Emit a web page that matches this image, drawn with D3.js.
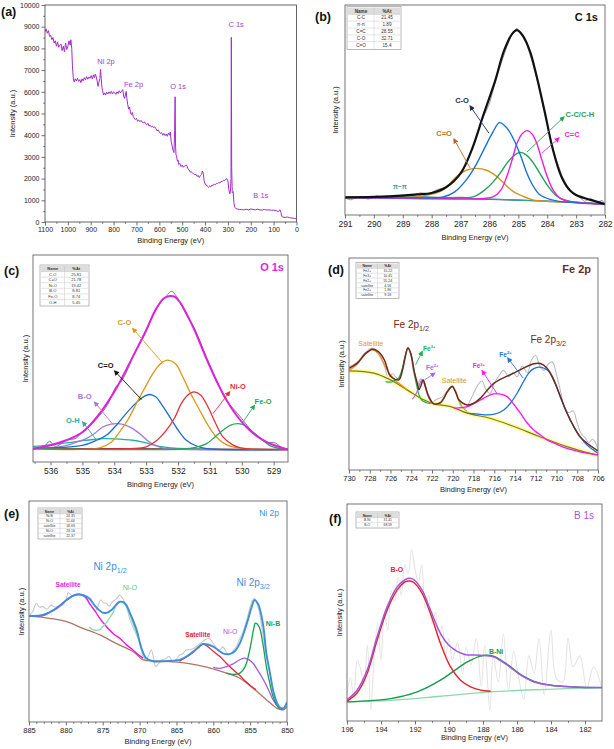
<!DOCTYPE html>
<html>
<head>
<meta charset="utf-8">
<script src="https://cdn.jsdelivr.net/npm/d3@7"></script>
<style>
body { margin: 0; background: #fff; }
svg { display: block; font-family: "Liberation Sans", Arial, sans-serif; }
</style>
</head>
<body>
<div id="chart"></div>
<script>
// ---------- (a) survey ----------
const surveyTicksX = [1100, 1000, 900, 800, 700, 600, 500, 400, 300, 200, 100, 0];
const surveyTicksY = [0, 1000, 2000, 3000, 4000, 5000, 6000, 7000, 8000, 9000, 10000];
const surveyPoints = [
  [1100,8770],[1095,8900],[1090,8700],[1085,8820],[1080,8550],[1075,8600],[1070,8400],[1065,8500],
  [1060,8250],[1055,8350],[1050,8100],[1045,8300],[1040,8050],[1035,8150],[1030,8200],[1025,7900],
  [1020,8100],[1015,7850],[1010,8250],[1005,7950],[1000,8100],[995,8350],[990,8150],[987,8400],
  [983,8000],[980,7200],[976,6600],[972,6450],[968,6600],[963,6500],[958,6620],[953,6480],[948,6560],
  [943,6420],[938,6600],[933,6500],[928,6650],[923,6550],[918,6700],[913,6580],[908,6680],[903,6620],
  [898,6750],[893,6600],[888,6780],[884,6650],[880,6820],[876,6700],[872,6500],[868,6250],[864,6450],
  [860,6600],[857,7030],[854,6600],[851,6200],[848,6050],[844,5850],[840,5950],[835,5850],[830,5980],
  [825,5900],[820,6000],[815,5920],[810,6020],[805,5900],[800,6000],[795,5950],[790,5880],[785,6000],
  [780,5920],[775,6050],[770,5950],[765,6020],[760,6100],[756,5800],[752,5700],[748,5850],[745,6020],
  [742,5700],[738,5400],[734,5200],[730,5300],[726,5000],[722,4950],[718,5050],[714,4850],[710,4800],
  [705,4720],[700,4780],[695,4650],[690,4700],[685,4620],[680,4680],[675,4600],[670,4560],[665,4620],
  [660,4520],[655,4480],[650,4550],[645,4420],[640,4460],[635,4380],[630,4420],[625,4350],[620,4380],
  [615,4300],[610,4200],[605,4250],[600,4150],[595,4080],[590,4120],[585,4000],[580,4080],[575,3980],
  [570,4050],[565,3950],[560,4100],[555,4000],[552,4150],[548,3700],[544,3500],[540,3300],[536,3200],
  [533,4200],[531,5770],[529,3500],[527,3100],[524,3000],[521,2800],[518,2850],[515,2650],[510,2700],
  [505,2550],[500,2620],[495,2520],[490,2580],[485,2600],[480,2620],[475,2450],[470,2400],[465,2300],
  [460,2320],[455,2250],[450,2220],[445,2180],[440,2200],[435,2100],[430,2150],[425,2050],[420,2150],
  [415,2200],[412,2350],[408,2250],[404,1900],[400,1750],[395,1720],[390,1650],[385,1600],[380,1650],
  [375,1620],[370,1700],[365,1680],[360,1750],[355,1720],[350,1780],[345,1760],[340,1820],[335,1800],
  [330,1870],[325,1860],[320,1920],[315,1900],[310,1960],[305,2000],[300,1900],[296,1500],[292,1300],
  [289,1400],[286.5,2000],[285,8510],[283.5,2500],[281,1350],[277,1400],[274,900],[270,680],[265,620],
  [260,600],[250,580],[240,570],[230,560],[220,590],[210,560],[200,600],[190,580],[180,560],[170,590],
  [160,560],[150,550],[140,580],[130,550],[120,560],[110,540],[100,550],[90,520],[80,480],[72,560],
  [68,430],[64,250],[60,230],[50,210],[40,230],[30,200],[20,180],[10,170],[0,150]
];
const surveyLabels = [["Ni 2p",833,7415],["Fe 2p",713,6340],["O 1s",518,6260],["C 1s",264,9120],["B 1s",156,1230]];

// ---------- (b) C 1s ----------
const c1sTicks = [291, 290, 289, 288, 287, 286, 285, 284, 283, 282];
const c1sRaw = [[291,8.0],[290.8,7.2],[290.5,8.8],[290.2,7.5],[289.9,9.1],[289.6,8.2],[289.3,8.9],[289,9.6],
  [288.7,9.0],[288.4,10.6],[288.1,10.0],[287.8,12.2],[287.5,13.0],[287.2,16.5],[286.9,22],[286.6,31],
  [286.3,44],[286,53],[285.7,68],[285.4,80],[285.2,87],[285.05,89],[284.9,86],[284.7,81],[284.5,72],
  [284.3,62],[284.1,49],[283.9,37],[283.7,27],[283.5,19],[283.3,13.5],[283.1,10],[282.9,8.5],[282.7,6.5],
  [282.5,8.0],[282.3,6.0],[282.1,7.0],[282,5]];
const c1sEnvelope = [[291,8.4],[290,8.6],[289,9.2],[288.5,9.8],[288,10.5],[287.5,13.2],[287,19.8],[286.6,31.5],
  [286.2,48],[285.8,64],[285.5,78],[285.2,86.5],[285.05,88],[284.85,85.5],[284.6,78],[284.4,68],[284.1,50],
  [283.8,31],[283.5,18],[283.2,11.5],[283,9.5],[282.5,7.2],[282,5.2]];
const c1sCO = [[291,8.4],[288.5,8.2],[287.6,8.6],[287.2,11],[286.8,16.7],[286.5,23],[286.2,31],[285.9,39],
  [285.65,44],[285.4,41.5],[285.15,35.7],[284.9,27.5],[284.7,19.8],[284.45,13],[284.24,9.5],[283.9,7.4],
  [283.6,6.5],[282,5.2]];
const c1sCdC = [[291,8.4],[286.2,7.9],[285.86,8.7],[285.6,12],[285.4,18.3],[285.2,27],[285.05,34],[284.88,38.5],
  [284.7,40.2],[284.52,38.5],[284.36,34],[284.18,26],[284,18.3],[283.8,12],[283.54,7.9],[283.2,6.3],[282,5.2]];
const c1sCC = [[291,8.4],[287,8.3],[286.56,8.6],[286.2,11.5],[285.86,15.9],[285.6,20.5],[285.4,24.6],[285.15,28.3],
  [284.93,29.8],[284.7,28.3],[284.47,24.6],[284.24,19.5],[284,14.3],[283.75,10],[283.54,7.9],[283.2,6.5],[282,5.2]];
const c1sCdO = [[291,8.4],[289,8.5],[288.53,8.6],[288.1,9.6],[287.72,11.1],[287.4,14.5],[287.14,18.3],[286.8,21.3],
  [286.44,22.2],[286.1,21.3],[285.74,18.3],[285.45,14.5],[285.17,11.1],[284.8,8.7],[284.47,7.1],[284,6.5],
  [283,6.0],[282,5.2]];
const c1sPi = [[291,8.3],[290,8.5],[289.3,9.1],[288.7,9.0],[288,8.5],[287,8.0],[286,7.6],[285,7.1],[284,6.5],[283,5.9],[282,5.2]];
const c1sBase = [[291,8.2],[289,8.2],[287,7.8],[285,7.1],[284,6.6],[283,6.0],[282,5.0]];
const c1sTableNames = ["C-C", "π-π", "C=C", "C-O", "C=O"];
const c1sTableAt = [21.45, 1.89, 28.55, 32.71, 15.4];

// ---------- (c) O 1s ----------
const o1sTicks = [536, 535, 534, 533, 532, 531, 530, 529];
const o1sRaw = [[536.55,6.2],[536.2,7.5],[536.03,10],[535.85,7.5],[535.5,10.5],[535.2,11.5],[534.99,14.8],
  [534.7,18.5],[534.46,22.5],[534.2,28],[533.94,36.5],[533.8,38.5],[533.6,44],[533.42,51],[533.2,57],
  [533,63],[532.8,71],[532.6,76],[532.4,79.5],[532.2,82.5],[532.05,80],[531.9,76],[531.7,70],[531.5,65],
  [531.3,58],[531.11,50.5],[530.9,43],[530.7,36],[530.5,30],[530.28,26],[530,21],[529.75,16],[529.5,12.5],
  [529.23,9.5],[528.95,9.2],[528.75,7],[528.55,6]];
const o1sEnvelope = [[536.55,6.5],[536.03,8],[535.51,10.5],[534.99,14.5],[534.46,23.4],[533.94,35.5],
  [533.42,50.8],[533,63.7],[532.68,74.2],[532.45,79],[532.26,80.2],[532.1,79.8],[531.95,77.4],[531.53,65.3],
  [531.11,50],[530.7,36.3],[530.28,25],[529.75,15.3],[529.23,9.7],[528.55,6]];
const o1sCO = [[536.55,6.5],[534.46,6.8],[534.1,9.5],[533.83,14.5],[533.55,21],[533.31,28.2],[533.05,35.5],
  [532.79,42.7],[532.55,47.5],[532.32,49.2],[532.08,47.5],[531.85,41.1],[531.6,33],[531.32,25],[531.05,17.5],
  [530.8,12.1],[530.5,8.5],[530.28,7.3],[529.6,6.2],[528.55,6]];
const o1sCdO = [[536.55,6.5],[535,8],[534.6,10.2],[534.25,12.9],[533.95,17.5],[533.63,23.4],[533.3,28.8],
  [533.05,31.8],[532.89,32.6],[532.7,31.5],[532.5,27.5],[532.26,21.8],[532,15.5],[531.74,10.5],[531.4,7.6],
  [531.1,6.5],[528.55,6]];
const o1sNiO = [[536.55,6.5],[533.5,6.5],[533,7.3],[532.7,10],[532.37,15.3],[532.1,21.5],[531.9,28.2],
  [531.7,32.3],[531.5,33.9],[531.3,32.5],[531.06,26.6],[530.83,19],[530.59,12.1],[530.3,8.4],[530.07,7],
  [529.6,6.2],[528.55,6]];
const o1sFeO = [[536.55,6.5],[531.74,6.4],[531.4,7.3],[531.1,8.9],[530.85,12],[530.59,15.3],[530.35,17.8],
  [530.12,18.5],[529.9,17.7],[529.65,14.5],[529.4,11.3],[529.13,8],[528.85,6.6],[528.55,6]];
const o1sBO = [[536.55,6.5],[535.8,7.2],[535.5,8],[535.2,9.5],[534.88,11.3],[534.6,14],[534.36,16.9],
  [534.1,18.3],[533.89,18.5],[533.65,17.8],[533.42,16.1],[533.15,13],[532.9,9.7],[532.6,7.3],[532.37,6.5],[528.55,6]];
const o1sOH = [[536.55,7.5],[536,8.3],[535.51,9.2],[535,10.3],[534.6,11],[534.36,11.3],[534,11.2],[533.42,10.5],
  [533,9.2],[532.58,7.6],[531.74,6.4],[528.55,6]];
const o1sBase = [[536.55,6.5],[532,6.4],[528.55,6.1]];
const o1sTableNames = ["C-O", "C=O", "Ni-O", "B-O", "Fe-O", "O-H"];
const o1sTableAt = [25.81, 21.78, 19.42, 8.81, 8.74, 5.45];

// ---------- (d) Fe 2p ----------
const fe2pTicks = [730, 728, 726, 724, 722, 720, 718, 716, 714, 712, 710, 708, 706];
const fe2pRaw = [[730,48.5],[729.2,51],[728.4,55.5],[727.75,57.5],[727.2,55],[726.6,49],[726.2,43.5],[725.8,45.5],
  [725.3,43],[724.8,49],[724.32,58],[724,53],[723.74,45],[723.4,40],[723.1,43],[722.8,41],[722.4,35],[722,32],
  [721.5,33.5],[721,34.5],[720.5,37.5],[720.05,39.8],[719.6,35],[719.2,30],[718.8,29],[718.4,32],[718,36],
  [717.6,40],[717.2,42],[716.8,38],[716.4,36],[716,41],[715.6,44],[715.1,47],[714.6,44],[714.2,46],[713.8,44],
  [713.3,49],[712.8,46],[712.4,52],[712,54],[711.6,49],[711.2,47],[710.8,50],[710.4,51],[710,45],[709.6,37],
  [709.2,29],[708.8,27],[708.4,28],[708,22],[707.6,17],[707.2,15],[706.9,13],[706.5,14.5],[706,10]];
const fe2pBackground = [[730,46.8],[727.6,45.7],[726,42.5],[724.4,37.8],[722.8,33.1],[721.8,31.2],[720.2,29.9],
  [718.6,26.8],[716.4,24.4],[714.1,20.5],[711.6,15.7],[709,11],[707.4,8.7],[706,7.1]];
const fe2pEnvelope = [[730,48],[729.2,50.4],[728.4,55],[727.75,57],[727.2,56],[726.6,52],[726.1,45],[725.8,43.5],
  [725.2,42.5],[724.8,48],[724.55,54],[724.32,57.5],[724.05,55],[723.74,47],[723.4,40.5],[723.26,37.8],
  [723.05,40],[722.85,42.5],[722.62,39],[722.3,34.6],[721.82,31.2],[721.2,31.8],[720.86,33.9],[720.5,37],
  [720.05,39.4],[719.7,36.5],[719.41,33.1],[718.61,30.7],[717.97,31.5],[717.33,33.9],[716.04,40.9],
  [714.12,45.7],[712.19,50.1],[711.55,50.2],[710.91,48],[710.3,43],[709.63,34.6],[709,27],[708.34,20.5],
  [707.7,15.5],[707.06,12.6],[706,9]];
const fe2pSat1 = [[730,46.8],[729.2,50],[728.4,54.8],[727.75,56.7],[727.2,55.2],[726.8,52],[726.3,47],[725.99,44.9],
  [725.6,42.5],[725.19,40.9],[724.7,39],[724.39,37.8]];
const fe2pFe3a = [[726.47,41.7],[725.9,41.5],[725.6,42.3],[725.19,43.5],[724.9,47],[724.61,53.5],[724.32,57.5],
  [724,54.3],[723.74,47.5],[723.52,41],[723.26,35.5],[723,33],[722.78,32.3],[722.46,31.6],[722.14,31.3]];
const fe2pFe2a = [[723.9,33.4],[723.58,35.5],[723.26,39.5],[723.05,42],[722.88,42.5],[722.7,41],[722.5,37],
  [722.3,34],[722,31.8],[721.82,31.2]];
const fe2pSat2 = [[721.5,30.8],[721.18,31.5],[720.86,33.5],[720.5,37.5],[720.05,39.4],[719.7,37],[719.41,33],
  [719.1,29.8],[718.61,27.6]];
const fe2pFe3b = [[719.89,29.1],[718.61,29.9],[717.97,31.3],[717.33,33],[716.69,34.8],[716.04,35.9],[715.4,35.8],
  [714.76,34.6],[714.12,31],[713.48,26.8],[712.84,22.3],[712.19,18.9],[711.55,16.5],[710.91,14.2],[709.9,12],
  [708.99,10.2],[707.38,8.2],[706,7.1]];
const fe2pFe2b = [[718.61,26.8],[717.33,26.2],[716.69,26],[715.88,26.5],[715.08,28.3],[714.44,31.5],[713.8,36.2],
  [713.2,41.5],[712.68,45.7],[712.19,47.8],[711.71,48.5],[711.2,48],[710.75,46.5],[710.2,41.5],[709.63,34.6],
  [709,27],[708.34,20.5],[707.7,15.5],[707.06,11.8],[706,7.9]];
const fe2pTableNames = ["Fe2+", "Fe3+", "Fe2+", "satellite", "Fe2+", "satellite"];
const fe2pTableAt = [15.22, 10.45, 55.24, 4.56, 1.96, 9.18];

// ---------- (e) Ni 2p ----------
const ni2pTicks = [885, 880, 875, 870, 865, 860, 855, 850];
const ni2pRaw = [[885,48],[884.5,50],[884,53.7],[883.6,52],[883.1,52.2],[882.6,51],[882,52.9],[881.5,52],[881,52.5],
  [880.4,53],[879.9,56],[879.7,58.5],[879.3,57.5],[879,57],[878.5,58.2],[878.1,57.7],[877.5,56.5],[877,54.4],
  [876.5,52],[876,50],[875.6,53],[875.3,55.2],[874.9,54],[874.5,53.7],[874.1,52.5],[873.7,54.4],[873.2,55.5],
  [872.7,57.4],[872.3,56],[872,54],[871.6,50],[871.3,46.2],[870.9,43],[870.5,40],[870.1,37],[869.8,34],[869.5,31],
  [869.2,28],[868.8,30],[868.4,32.6],[868.1,29],[867.8,25],[867.4,26.5],[867,28],[866.5,28.5],[866,29.6],
  [865.5,27.4],[865,28.5],[864.5,30.4],[864.1,31],[863.7,32.6],[863.2,32.8],[862.6,33.4],[862,34.9],[861.6,36],
  [861.2,37],[860.6,37.9],[860.2,36.5],[860,35.6],[859.6,33.5],[859.3,32.6],[859,33],[858.7,34],[858.3,32],
  [858,30.4],[857.6,31],[857.2,32.6],[856.8,34.5],[856.5,37.1],[856.1,39.5],[855.8,42.4],[855.4,47],[855,52.2],
  [854.7,55],[854.5,55.9],[854.2,55],[854,53],[853.6,47],[853.3,40],[852.9,32],[852.5,25],[852.1,18],[851.8,13],
  [851.4,9],[851,7],[850.5,6.3],[850,9.3]];
const ni2pBackground = [[885,48],[882.2,46.9],[879.9,45.4],[877.7,42.4],[875.4,39.4],[873.2,35.6],[870.9,31.9],
  [869.5,28.1],[868,27.6],[866.4,27.4],[863.7,26.6],[860.9,24.8],[858.2,22.1],[856.4,19.8],[854.6,15.3],
  [852.8,10.1],[851.4,6.3],[850.5,5.6],[850,7.1]];
const ni2pEnvelope = [[885,48],[883.1,48.4],[881.3,51.4],[879.9,55.2],[878.9,57.3],[878.1,57.7],[877.3,57],
  [876.8,55.9],[875.9,52],[875,49.5],[874.5,49.4],[873.8,50.7],[873.2,53],[872.7,54.4],[872.2,54.2],[871.8,52.9],
  [871.2,48.5],[870.4,41.7],[869.8,34],[869.1,28.9],[868.2,27.5],[867.3,27.4],[866,27.6],[864.6,28.1],
  [863.7,29.5],[862.7,31.9],[861.8,34.5],[861.4,35.3],[860.9,35.2],[860,34.1],[858.7,31.1],[857.8,30.7],
  [857.1,32],[856.4,35.6],[855.8,41],[855.3,46.2],[854.8,52],[854.4,55.2],[854,53.8],[853.7,51.4],[853.2,43],
  [852.8,31.1],[852.3,22],[851.9,14.6],[851.4,9],[851,6.6],[850.5,6.2],[850,8.9]];
const ni2pSat1 = [[885,48],[883.1,48.2],[882.2,49.6],[881,52],[879.9,55.2],[878.9,57.3],[878.1,57.7],[877.3,56.5],
  [876.8,53.7],[876.1,50.5],[875.4,46.9],[874.7,44],[874.1,41.7],[873.4,39.5],[872.7,37.9],[871.8,35],
  [870.9,32.6],[870.2,30.5],[869.5,28.9]];
const ni2pNiOa = [[876.8,43],[876.3,41.7],[875.4,41.8],[875,43.2],[874.5,45],[874.1,47],[873.6,49.5],[873.2,52.5],
  [872.7,54.4],[872.2,54],[871.6,51.4],[871.1,46.5],[870.4,40.2],[869.8,33.5],[869.5,29.6],[869.1,28.3]];
const ni2pSat2 = [[864.6,27.5],[863.7,29.3],[862.7,31.6],[861.8,34.3],[861.4,35.3],[860.9,34.5],[860,32],
  [859.1,29.6],[858.2,26.5],[857.3,23.6],[856.4,21],[855.6,18.3],[854.9,16.3],[854.2,14.6]];
const ni2pNiOb = [[860,24.7],[859.1,24.3],[858.2,25.1],[857.3,26.3],[856.8,27.4],[856.2,28.5],[855.7,28.9],
  [855.2,28.2],[854.6,26.6],[853.9,23],[853.2,19.1],[852.5,14.5],[851.9,10.1],[851.3,7.2],[850.8,5.9],[850.4,5.6]];
const ni2pNiB = [[858.2,22.1],[857.3,21.5],[856.4,22.1],[855.9,23.8],[855.5,26.6],[855.1,32],[854.8,37.1],
  [854.5,42.5],[854.3,44.7],[854,44.2],[853.7,42.4],[853.3,36],[852.8,25.1],[852.3,17],[851.9,11.6],[851.4,7.8],
  [851,5.9],[850.6,5.6]];
const ni2pTableNames = ["Ni-B", "Ni-O", "satellite", "Ni-O", "satellite"];
const ni2pTableAt = [24.35, 11.44, 18.69, 23.16, 22.37];

// ---------- (f) B 1s ----------
const b1sTicks = [196, 194, 192, 190, 188, 186, 184, 182];
const b1sRaw = [[196,12],[195.8,20],[195.6,10],[195.4,28],[195.2,24],[195,16],[194.8,35],[194.6,5],[194.4,30],
  [194.2,45],[194,28],[193.8,50],[193.6,42],[193.4,60],[193.2,55],[193,66],[192.8,58],[192.6,72],[192.4,68],
  [192.2,79],[192,70],[191.8,64],[191.6,72],[191.4,52],[191.2,58],[191,45],[190.8,50],[190.6,36],[190.4,44],
  [190.2,30],[190,38],[189.8,28],[189.5,36],[189.2,22],[189,34],[188.7,26],[188.4,38],[188.1,16],[187.9,35],
  [187.6,5],[187.4,30],[187.1,18],[186.8,40],[186.5,14],[186.2,32],[185.9,20],[185.6,10],[185.3,30],[185,22],
  [184.7,38],[184.4,12],[184,42],[183.7,20],[183.3,18],[183,38],[182.7,25],[182.3,30],[181.9,15],[181.5,25],[181,15]];
const b1sBackground = [[196,8.8],[193.44,9.5],[190.5,11.4],[187.55,13.4],[184.6,14.5],[181,15.4]];
const b1sEnvelope = [[196,9.8],[195.41,14.2],[194.82,23.4],[194.23,38.8],[193.64,52.6],[193.05,61.8],[192.56,65.2],
  [192.3,65.8],[192.07,65.2],[191.58,60.3],[191.09,51.1],[190.5,40.3],[189.91,34.2],[189.12,30.8],[188.14,30.3],
  [187.35,29.5],[186.56,25.7],[185.78,21.1],[184.99,18],[184.01,16.5],[182.63,15.7],[181,15.4]];
const b1sBO = [[196,9.2],[195.41,12.9],[194.82,21.8],[194.23,37.2],[193.64,51.1],[193.05,60.3],[192.56,64.2],
  [192.3,64.5],[192.07,63.8],[191.58,58.8],[191.09,49.5],[190.5,35.7],[189.91,24.9],[189.32,18.8],[188.73,15.7],
  [188.14,14.2],[187.55,13.7]];
const b1sBNi = [[196,8.8],[193.44,10.3],[191.87,13.4],[190.5,18.8],[189.71,23.1],[188.92,27.2],[188.2,29.8],
  [187.8,30.3],[187.35,29.8],[186.56,26],[185.78,21.4],[184.99,18.3],[184.01,16.5],[182.63,15.7],[181,15.4]];
const b1sTableNames = ["B-Ni", "B-O"];
const b1sTableAt = [31.41, 68.59];

// ---------- drawing ----------
const svg = d3.select("#chart").append("svg").attr("width", 614).attr("height", 749);
const defs = svg.append("defs");
const smooth = d3.curveCatmullRom.alpha(0.5);

function arrowMarker(color) {
  const id = "arr" + color.replace("#", "");
  if (defs.select("#" + id).empty()) {
    defs.append("marker").attr("id", id)
      .attr("viewBox", "0 0 10 10").attr("refX", 8).attr("refY", 5)
      .attr("markerWidth", 6).attr("markerHeight", 6).attr("orient", "auto")
      .append("path").attr("d", "M0,0L10,5L0,10z").attr("fill", color);
  }
  return "url(#" + id + ")";
}

function setupPanel(p) {
  const x = d3.scaleLinear().domain(p.xDomain).range([p.left, p.right]);
  const y = d3.scaleLinear().domain(p.yDomain).range([p.bottom, p.top]);
  const g = svg.append("g");
  defs.append("clipPath").attr("id", "clip" + p.name).append("rect")
    .attr("x", p.left).attr("y", p.top).attr("width", p.right - p.left).attr("height", p.bottom - p.top);
  const plot = g.append("g").attr("clip-path", "url(#clip" + p.name + ")");

  const minor = g.append("g").attr("transform", `translate(0,${p.bottom})`)
    .call(d3.axisBottom(x).tickValues(p.minorX).tickSize(1.8).tickFormat(""));
  const major = g.append("g").attr("transform", `translate(0,${p.bottom})`)
    .call(d3.axisBottom(x).tickValues(p.ticksX).tickSize(3.5).tickPadding(2).tickFormat(d3.format("d")));
  major.selectAll("text").attr("font-size", p.tickFont).attr("fill", "#222").style("font-family", "inherit");
  [minor, major].forEach(a => { a.select(".domain").remove(); a.selectAll("line").attr("stroke", "#333").attr("stroke-width", 0.7); });

  if (p.ticksY) {
    const minY = g.append("g").attr("transform", `translate(${p.left},0)`)
      .call(d3.axisLeft(y).tickValues(p.minorY).tickSize(1.8).tickFormat(""));
    const majY = g.append("g").attr("transform", `translate(${p.left},0)`)
      .call(d3.axisLeft(y).tickValues(p.ticksY).tickSize(3.5).tickPadding(2).tickFormat(d3.format("d")));
    majY.selectAll("text").attr("font-size", p.tickFont).attr("fill", "#222").style("font-family", "inherit");
    [minY, majY].forEach(a => { a.select(".domain").remove(); a.selectAll("line").attr("stroke", "#333").attr("stroke-width", 0.7); });
  }

  g.append("rect").attr("x", p.left).attr("y", p.top)
    .attr("width", p.right - p.left).attr("height", p.bottom - p.top)
    .attr("fill", "none").attr("stroke", p.frame || "#666").attr("stroke-width", 0.9);

  g.append("text").attr("x", (p.left + p.right) / 2 + (p.xLabelDx || 0)).attr("y", p.xLabelY)
    .attr("text-anchor", "middle").attr("font-size", 7.5).attr("fill", "#222").text("Binding Energy (eV)");
  g.append("text").attr("transform", `translate(${p.yLabelX},${(p.top + p.bottom) / 2}) rotate(-90)`)
    .attr("text-anchor", "middle").attr("font-size", 7.5).attr("fill", "#222").text("Intensity (a.u.)");

  g.append("text").attr("x", p.tagX).attr("y", p.tagY).attr("font-size", 12.5)
    .attr("font-weight", "bold").attr("fill", "#111").text(p.tag);

  return { x, y, g, plot, p };
}

function curve(P, data, color, width, opts = {}) {
  const line = d3.line().x(d => P.x(d[0])).y(d => P.y(d[1])).curve(opts.linear ? d3.curveLinear : smooth);
  P.plot.append("path").datum(data).attr("d", line)
    .attr("fill", "none").attr("stroke", color).attr("stroke-width", width)
    .attr("stroke-linejoin", "round").attr("opacity", opts.opacity || 1);
}

function label(P, txt, E, I, color, size, weight, sup) {
  const t = P.g.append("text").attr("x", P.x(E)).attr("y", P.y(I) + size * 0.35)
    .attr("text-anchor", "middle").attr("font-size", size).attr("font-weight", weight || "normal")
    .attr("fill", color);
  t.append("tspan").text(txt);
  if (sup) t.append("tspan").attr("font-size", size * 0.62).attr("dy", -size * 0.4).text(sup);
  return t;
}

function subLabel(P, main, sub, E, I, color, size) {
  const t = P.g.append("text").attr("x", P.x(E)).attr("y", P.y(I) + size * 0.35)
    .attr("text-anchor", "middle").attr("font-size", size).attr("fill", color);
  t.append("tspan").text(main);
  t.append("tspan").attr("font-size", size * 0.72).attr("dy", size * 0.3).text(sub);
}

function arrow(P, E0, I0, E1, I1, color) {
  P.g.append("line").attr("x1", P.x(E0)).attr("y1", P.y(I0)).attr("x2", P.x(E1)).attr("y2", P.y(I1))
    .attr("stroke", color).attr("stroke-width", 0.9).attr("marker-end", arrowMarker(color));
}

function table(P, names, vals, x0, y0, w, h) {
  const rows = names.length + 1, rh = h / rows, split = x0 + w * 0.5;
  const g = P.g.append("g");
  g.append("rect").attr("x", x0 - 1).attr("y", y0 - 1).attr("width", w + 2).attr("height", h + 2)
    .attr("fill", "#fff").attr("stroke", "#aaa").attr("stroke-width", 0.8);
  g.append("rect").attr("x", x0).attr("y", y0).attr("width", w).attr("height", rh).attr("fill", "#ddd");
  const fs = Math.min(rh * 0.72, 4.6);
  const cells = [["Name", "%At"]].concat(names.map((n, i) => [n, String(vals[i])]));
  cells.forEach((c, i) => {
    const yy = y0 + rh * (i + 0.5) + fs * 0.35;
    g.append("text").attr("x", x0 + w * 0.25).attr("y", yy).attr("text-anchor", "middle")
      .attr("font-size", fs).attr("font-weight", i === 0 ? "bold" : "normal").attr("fill", "#333").text(c[0]);
    g.append("text").attr("x", x0 + w * 0.75).attr("y", yy).attr("text-anchor", "middle")
      .attr("font-size", fs).attr("font-weight", i === 0 ? "bold" : "normal").attr("fill", "#333").text(c[1]);
    if (i > 0) g.append("line").attr("x1", x0).attr("x2", x0 + w).attr("y1", y0 + rh * i).attr("y2", y0 + rh * i)
      .attr("stroke", "#bbb").attr("stroke-width", 0.4);
  });
  g.append("line").attr("x1", split).attr("x2", split).attr("y1", y0).attr("y2", y0 + h)
    .attr("stroke", "#bbb").attr("stroke-width", 0.4);
}

function title(P, txt, x, y, color, size, weight) {
  P.g.append("text").attr("x", x).attr("y", y).attr("text-anchor", "end").attr("font-size", size)
    .attr("font-weight", weight).attr("fill", color).text(txt);
}

// (a)
const A = setupPanel({ name: "a", left: 45, right: 296.5, top: 5, bottom: 222, xDomain: [1100, 0], yDomain: [0, 10000],
  ticksX: surveyTicksX, minorX: d3.range(1050, 0, -100), ticksY: surveyTicksY, minorY: d3.range(500, 10000, 1000),
  tickFont: 7, xLabelY: 243, yLabelX: 15, tag: "(a)", tagX: 1, tagY: 16, frame: "#555" });
curve(A, surveyPoints, "#a22cc8", 1, { linear: true });
surveyLabels.forEach(l => label(A, l[0], l[1], l[2], "#a23ec8", 7.5));

// (b)
const B = setupPanel({ name: "b", left: 345, right: 605, top: 5, bottom: 215, xDomain: [291, 282], yDomain: [0, 100],
  ticksX: c1sTicks, minorX: d3.range(290.5, 282, -1), tickFont: 8.5, xLabelY: 240, yLabelX: 338,
  tag: "(b)", tagX: 315, tagY: 21 });
curve(B, c1sRaw, "#888", 0.8, { linear: true });
curve(B, c1sBase, "#4a4f7a", 1.2);
curve(B, c1sPi, "#2aa7a0", 1.2);
curve(B, c1sCdO, "#d4961e", 1.4);
curve(B, c1sCC, "#22a25a", 1.4);
curve(B, c1sCdC, "#f01ae0", 1.4);
curve(B, c1sCO, "#1c72d4", 1.4);
curve(B, c1sEnvelope, "#111", 2.2);
arrow(B, 286.02, 39, 286.67, 51.9, "#1c2a5a");
arrow(B, 286.67, 22.4, 287.23, 36.2, "#b5652a");
arrow(B, 284.7, 30, 283.42, 46.7, "#22a25a");
arrow(B, 284.18, 29.5, 283.59, 36.7, "#f01ae0");
label(B, "C-O", 286.95, 54.8, "#1c2a5a", 7.5, "bold");
label(B, "C=O", 287.57, 39, "#c0702a", 7.5, "bold");
label(B, "C-C/C-H", 282.87, 48.1, "#22a25a", 7.5, "bold");
label(B, "C=C", 283.14, 38.6, "#f01ae0", 7.5, "bold");
label(B, "π−π", 289.1, 13.3, "#2aa7a0", 6.5, "bold");
title(B, "C 1s", 598, 21, "#111", 11, "bold");
table(B, c1sTableNames, c1sTableAt, 348, 7.5, 52, 41);

// (c)
const C = setupPanel({ name: "c", left: 33, right: 288, top: 255, bottom: 462, xDomain: [536.55, 528.55], yDomain: [0, 100],
  ticksX: o1sTicks, minorX: d3.range(536.5, 528.5, -1), tickFont: 8.5, xLabelY: 487, yLabelX: 28,
  tag: "(c)", tagX: 4, tagY: 275 });
curve(C, o1sRaw, "#777", 1, { linear: false });
curve(C, o1sBase, "#8a3a3a", 1.1);
curve(C, o1sOH, "#22b39e", 1.3);
curve(C, o1sBO, "#a678dc", 1.3);
curve(C, o1sCdO, "#1c6cd0", 1.3);
curve(C, o1sCO, "#d9991a", 1.3);
curve(C, o1sNiO, "#e5303c", 1.3);
curve(C, o1sFeO, "#22a860", 1.3);
curve(C, o1sEnvelope, "#e21ee0", 2);
arrow(C, 532.47, 47.6, 533.42, 64.5, "#d9991a");
arrow(C, 533.15, 30.2, 533.99, 44, "#111");
arrow(C, 534.04, 18.1, 534.62, 29, "#a678dc");
arrow(C, 534.57, 10.8, 534.99, 19.4, "#22b39e");
arrow(C, 530.9, 23.4, 530.38, 33.9, "#e5303c");
arrow(C, 529.96, 19.4, 529.6, 27.4, "#22a860");
label(C, "C-O", 533.68, 67.3, "#d9991a", 7.5, "bold");
label(C, "C=O", 534.27, 46.8, "#111", 7.5, "bold");
label(C, "B-O", 534.93, 31.5, "#a678dc", 7.5, "bold");
label(C, "O-H", 535.3, 20.2, "#22b39e", 7.5, "bold");
label(C, "Ni-O", 530.12, 36.6, "#e5303c", 7.5, "bold");
label(C, "Fe-O", 529.33, 29.5, "#22a860", 7.5, "bold");
title(C, "O 1s", 284, 271, "#e21ee0", 11, "bold");
table(C, o1sTableNames, o1sTableAt, 41, 266, 47, 39);

// (d)
const D = setupPanel({ name: "d", left: 349, right: 598, top: 258, bottom: 470, xDomain: [730, 706], yDomain: [0, 100],
  ticksX: fe2pTicks, minorX: d3.range(729, 706, -2), tickFont: 7.5, xLabelY: 492, yLabelX: 344,
  tag: "(d)", tagX: 328, tagY: 274 });
curve(D, fe2pRaw, "#bdbdbd", 1.1);
curve(D, fe2pBackground, "#ffff9a", 4.5);
curve(D, fe2pBackground, "#7c7a2e", 1.2);
curve(D, fe2pSat1, "#f08a24", 1.2);
curve(D, fe2pFe3a, "#1fae4a", 1.2);
curve(D, fe2pFe2a, "#b066e6", 1.2);
curve(D, fe2pSat2, "#d8a21e", 1.2);
curve(D, fe2pFe3b, "#ff14ff", 1.3);
curve(D, fe2pFe2b, "#1f72d8", 1.3);
curve(D, fe2pEnvelope, "#6b2a22", 1.5);
arrow(D, 723.58, 49.6, 722.94, 55.9, "#1fae4a");
arrow(D, 722.72, 42.5, 721.72, 45.7, "#b066e6");
arrow(D, 715.72, 35.9, 717.17, 46.9, "#ff14ff");
arrow(D, 713.2, 43.3, 714.7, 52.8, "#1f72d8");
subLabel(D, "Fe 2p", "1/2", 724.0, 68.8, "#6b2a22", 10);
subLabel(D, "Fe 2p", "3/2", 710.8, 61.7, "#6b2a22", 10);
label(D, "Satellite", 727.9, 59.5, "#e8923a", 7);
label(D, "Satellite", 719.86, 42, "#c89a1e", 7);
label(D, "Fe", 722.27, 57.2, "#1fae4a", 6.5, "bold", "3+");
label(D, "Fe", 721.98, 48.3, "#b066e6", 6.5, "bold", "2+");
label(D, "Fe", 717.49, 49.1, "#ff14ff", 6.5, "bold", "3+");
label(D, "Fe", 714.92, 54.6, "#1f72d8", 6.5, "bold", "2+");
title(D, "Fe 2p", 591, 273, "#6b2a22", 11, "bold");
table(D, fe2pTableNames, fe2pTableAt, 357, 263.5, 41, 34);

// (e)
const E = setupPanel({ name: "e", left: 29, right: 287, top: 501, bottom: 722, xDomain: [885, 850], yDomain: [0, 100],
  ticksX: ni2pTicks, minorX: d3.range(884, 850, -1).filter(v => v % 5 !== 0), tickFont: 7.5, xLabelY: 744, yLabelX: 24,
  tag: "(e)", tagX: 4, tagY: 518 });
curve(E, ni2pRaw, "#c8c8c8", 1.1);
curve(E, ni2pBackground, "#b07468", 1.3);
curve(E, ni2pSat1, "#f010f0", 1.4);
curve(E, ni2pNiOa, "#8fdcb0", 1.3);
curve(E, ni2pSat2, "#e82030", 1.3);
curve(E, ni2pNiOb, "#a35ee0", 1.3);
curve(E, ni2pNiB, "#17a04e", 1.3);
curve(E, ni2pEnvelope, "#3d8fdb", 1.9);
subLabel(E, "Ni 2p", "1/2", 874, 70.5, "#3d8fdb", 10);
subLabel(E, "Ni 2p", "3/2", 854.6, 63, "#3d8fdb", 10);
label(E, "Satellite", 879.7, 62.3, "#e81ee8", 6.5, "bold");
label(E, "Ni-O", 871.3, 60.9, "#5cc890", 7);
label(E, "Satellite", 862.1, 39.7, "#e82030", 6.5, "bold");
label(E, "Ni-O", 857.7, 40.9, "#a35ee0", 7);
label(E, "Ni-B", 851.9, 44.4, "#17a04e", 7, "bold");
title(E, "Ni 2p", 279, 516, "#3d8fdb", 8.5, "normal");
table(E, ni2pTableNames, ni2pTableAt, 39, 509, 42, 29);

// (f)
const F = setupPanel({ name: "f", left: 347, right: 602, top: 504, bottom: 721, xDomain: [196, 181], yDomain: [0, 100],
  ticksX: b1sTicks, minorX: d3.range(195, 181, -2), tickFont: 7.5, xLabelY: 740, yLabelX: 342,
  tag: "(f)", tagX: 329, tagY: 523 });
curve(F, b1sRaw, "#e4e4e4", 1.1);
curve(F, b1sBackground, "#8ed8b0", 1.3);
curve(F, b1sBNi, "#17994e", 1.4);
curve(F, b1sBO, "#e8202a", 1.4);
curve(F, b1sEnvelope, "#a257dc", 1.5);
label(F, "B-O", 193.07, 69.8, "#e8202a", 7, "bold");
label(F, "B-Ni", 187.23, 31.8, "#17994e", 7, "bold");
title(F, "B 1s", 594, 519, "#a257dc", 10, "normal");
table(F, b1sTableNames, b1sTableAt, 357, 513, 41, 14);
</script>
</body>
</html>
